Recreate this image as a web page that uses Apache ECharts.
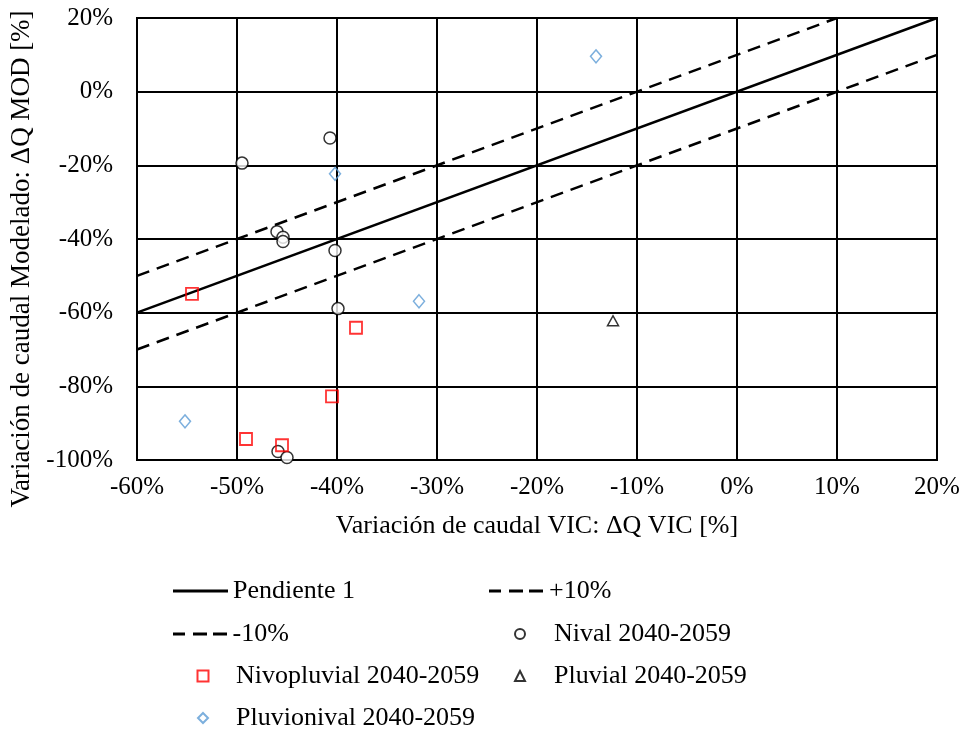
<!DOCTYPE html>
<html><head><meta charset="utf-8">
<script src="https://cdn.jsdelivr.net/npm/echarts@6/dist/echarts.min.js"></script>
<style>html,body{margin:0;padding:0;background:#fff}#c{width:969px;height:732px}</style>
</head><body><div id="c"></div>
<script>
const xTicks = [-60,-50,-40,-30,-20,-10,0,10,20];
const yTicks = [-100,-80,-60,-40,-20,0,20];
const pendiente1 = [[-60,-60],[20,20]];
const mas10 = [[-60,-50],[10,20]];
const menos10 = [[-60,-70],[20,10]];
const nival = [[-40.7,-12.6],[-49.5,-19.4],[-46.0,-38.0],[-45.4,-39.5],[-45.4,-40.7],[-40.2,-43.1],[-39.9,-58.9],[-45.9,-97.7],[-45.0,-99.3]];
const nivopluvial = [[-54.5,-54.9],[-38.1,-64.1],[-40.5,-82.7],[-49.1,-94.3],[-45.5,-96.0]];
const pluvial = [[-12.4,-62.2]];
const pluvionival = [[-14.1,9.6],[-40.2,-22.3],[-31.8,-56.9],[-55.2,-89.5]];

const FONT = '"Liberation Serif","Times New Roman",serif';
const chart = echarts.init(document.getElementById('c'), null, {renderer:'canvas'});
const lineStyleSolid = {color:'#000', width:2.5, type:'solid'};
const lineStyleDash = {color:'#000', width:2.5, type:[13,8]};
const SOLID_ICON = 'path://M0,0H55V3H0Z';
const DASH_ICON = 'path://M0,0H12V3H0Z M20,0H34V3H20Z M40,0H54V3H40Z';

function lineLegend(name, icon, left, rowY, w){
  return {left:left, top:rowY-13, padding:0, itemWidth:w, itemHeight:3,
    textStyle:{fontFamily:FONT, fontSize:26, color:'#000'},
    data:[{name:name, icon:icon, itemStyle:{color:'#000', borderWidth:0}, lineStyle:{width:0}}]};
}
function markLegend(name, cx, rowY, size, textX){
  const left = cx - size/2;
  const pad = textX - (left + size + 5);
  return {left:left, top:rowY-13, padding:0, itemWidth:size, itemHeight:size,
    textStyle:{fontFamily:FONT, fontSize:26, color:'#000', padding:[0,0,0,pad]},
    data:[name]};
}

chart.setOption({
  animation:false,
  grid:{left:136, right:32, top:18, bottom:272, show:true, borderColor:'#000', borderWidth:2},
  xAxis:{type:'value', min:-60, max:20, interval:10,
    axisLine:{show:true, lineStyle:{color:'#000', width:2}}, axisTick:{show:false},
    splitLine:{show:true, lineStyle:{color:'#000', width:2}},
    axisLabel:{fontFamily:FONT, fontSize:25, color:'#000', margin:15, formatter:v=>v+'%'},
    name:'Variación de caudal VIC: ΔQ VIC [%]', nameLocation:'middle', nameGap:53,
    nameTextStyle:{fontFamily:FONT, fontSize:26, color:'#000'}},
  yAxis:{type:'value', min:-100, max:20, interval:20,
    axisLine:{show:true, lineStyle:{color:'#000', width:2}}, axisTick:{show:false},
    splitLine:{show:true, lineStyle:{color:'#000', width:2}},
    axisLabel:{fontFamily:FONT, fontSize:25, color:'#000', margin:24, formatter:v=>v+'%'},
    name:'Variación de caudal Modelado: ΔQ MOD [%]', nameLocation:'middle', nameGap:102,
    nameTextStyle:{fontFamily:FONT, fontSize:27, color:'#000', padding:[0,40,0,0]}},
  legend:[
    lineLegend('Pendiente 1', SOLID_ICON, 173, 591, 55),
    lineLegend('+10%', DASH_ICON, 489, 591, 56),
    lineLegend('-10%', DASH_ICON, 173, 634, 55),
    markLegend('Nival 2040-2059', 519, 634, 10, 553),
    markLegend('Nivopluvial 2040-2059', 202, 676, 11, 235),
    markLegend('Pluvial 2040-2059', 519, 676, 10, 553),
    markLegend('Pluvionival 2040-2059', 202, 718, 10, 235)
  ],
  series:[
    {name:'Pendiente 1', type:'line', data:pendiente1, symbol:'none', lineStyle:lineStyleSolid, itemStyle:{color:'#000'}, z:3},
    {name:'+10%', type:'line', data:mas10, symbol:'none', lineStyle:lineStyleDash, itemStyle:{color:'#000'}, z:3},
    {name:'-10%', type:'line', data:menos10, symbol:'none', lineStyle:lineStyleDash, itemStyle:{color:'#000'}, z:3},
    {name:'Nival 2040-2059', type:'scatter', data:nival, symbol:'circle', symbolSize:12,
     itemStyle:{color:'#fff', borderColor:'#000', borderWidth:1.5}, z:5},
    {name:'Nivopluvial 2040-2059', type:'scatter', data:nivopluvial, symbol:'rect', symbolSize:12,
     itemStyle:{color:'rgba(255,255,255,0)', borderColor:'#ff0000', borderWidth:1.8}, z:5},
    {name:'Pluvial 2040-2059', type:'scatter', data:pluvial, symbol:'triangle', symbolSize:[11,10],
     itemStyle:{color:'rgba(255,255,255,0)', borderColor:'#000', borderWidth:1.5}, z:5},
    {name:'Pluvionival 2040-2059', type:'scatter', data:pluvionival, symbol:'diamond', symbolSize:[11,13],
     itemStyle:{color:'rgba(255,255,255,0)', borderColor:'#5b9bd5', borderWidth:1.5}, z:5}
  ]
});
</script></body></html>
